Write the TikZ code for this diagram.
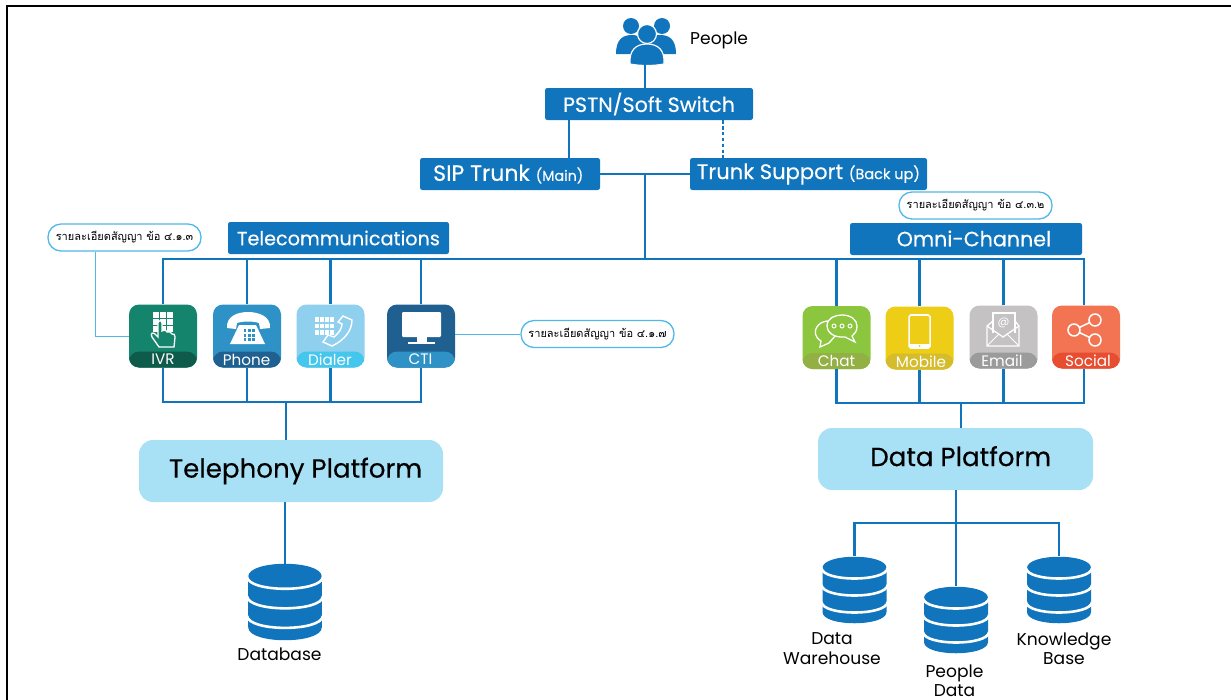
\documentclass[tikz,border=0pt]{standalone}
\usepackage{fontspec}
\setmainfont{Poppins}
\newfontfamily\boxfont[FakeBold=0.35]{Poppins}
\newfontfamily\thaifont[Script=Thai]{Loma}
\usepackage{tikz}
\usepackage{xcolor}
\definecolor{boxblue}{RGB}{17,117,190}
\definecolor{platblue}{RGB}{168,224,245}
\definecolor{noteblue}{RGB}{79,184,232}
\definecolor{ivrtop}{RGB}{20,133,108}
\definecolor{ivrbot}{RGB}{14,91,75}
\definecolor{phonetop}{RGB}{47,146,198}
\definecolor{phonebot}{RGB}{31,96,144}
\definecolor{dialtop}{RGB}{143,208,239}
\definecolor{dialbot}{RGB}{69,198,236}
\definecolor{chattop}{RGB}{140,198,63}
\definecolor{chatbot}{RGB}{147,176,68}
\definecolor{mobtop}{RGB}{237,205,21}
\definecolor{mobbot}{RGB}{212,188,44}
\definecolor{mailtop}{RGB}{196,194,194}
\definecolor{mailbot}{RGB}{155,155,155}
\definecolor{socialtop}{RGB}{242,116,82}
\definecolor{socialbot}{RGB}{230,77,49}
\def\u{0.03cm}
\newcommand{\fsz}[1]{\fontsize{#1}{#1}\selectfont}
\tikzset{%
    bluebox/.style 2 args={%
        fill=boxblue, text=white, rounded corners=2pt, inner sep=0pt,
        minimum width=#1*\u, minimum height=#2*\u, font=\boxfont
    },
    platform/.style 2 args={%
        fill=platblue, text=black, rounded corners=0.42cm, inner sep=0pt,
        minimum width=#1*\u, minimum height=#2*\u, font=\boxfont\fsz{22.3}
    },
    note/.style={%
        draw=noteblue, fill=white, rounded corners=0.39cm, inner sep=0pt, line width=1.1pt,
        minimum width=153*\u, minimum height=27*\u, font=\thaifont\fsz{9.4}
    },
    tile/.style 2 args={%
        fill=#1, rounded corners=0.3cm, inner sep=0pt,
        minimum width=68*\u, minimum height=63*\u,
        path picture={\fill[#2] ([yshift=16*\u]path picture bounding box.south west) rectangle (path picture bounding box.north east |- path picture bounding box.south);}
    },
    tilelabel/.style={text=white, inner sep=0pt, font=\fsz{13}},
    dblabel/.style={text=black, inner sep=0pt, align=center, font=\fontsize{14.6}{16.5}\selectfont},
    wire/.style={boxblue, line width=1.8pt},
    noteline/.style={noteblue, line width=0.8pt},
    slot/.style={minimum width=64*\u, minimum height=68*\u, inner sep=0pt},
    dbicon/.pic={%
        \fill[boxblue] (-32,-22) .. controls (-32,-37) and (32,-37) .. (32,-22) -- (32,22) .. controls (32,37) and (-32,37) .. (-32,22) -- cycle;
        \foreach \yy in {-22,-5,12}
            \draw[white,line width=2.2pt] (-33,\yy) .. controls (-32,\yy+14) and (32,\yy+14) .. (33,\yy);
    }
}
\begin{document}
\begin{tikzpicture}[x=0.03cm,y=-0.03cm]
    \useasboundingbox (0,0) rectangle (1231,699);
    \draw[line width=1.3pt] (7,705)--(7,6)--(1240,6);

    % people on top
    \node[inner sep=0pt,minimum width=60*\u,minimum height=48*\u] (people) at (646,40) {};
    \begin{scope}[shift={(646,40)}]
        \fill[boxblue] (-15,-14) circle (8);
        \fill[boxblue] (16,-14) circle (8);
        \fill[boxblue] (-30,14) .. controls (-30,-2) and (-22,-5) .. (-14,-5) .. controls (-6,-5) and (0,0) .. (2,14) -- cycle;
        \fill[boxblue] (-2,14) .. controls (0,0) and (6,-5) .. (14,-5) .. controls (22,-5) and (30,-2) .. (30,14) -- cycle;
        \filldraw[boxblue,draw=white,line width=1pt] (1,-6) circle (9.5);
        \filldraw[boxblue,draw=white,line width=1pt] (-16,24) .. controls (-17,10) and (-10,4) .. (1,4) .. controls (12,4) and (19,10) .. (18,24) .. controls (8,26) and (-6,26) .. (-16,24) -- cycle;
    \end{scope}
    \node[text=black,inner sep=0pt,font=\fsz{14.6},anchor=west] (peopletxt) at (690,40) {People};

    % boxes
    \node[bluebox={208}{32}] (pstn) at (649,104) {\raisebox{2pt}{\fsz{17.6}PSTN/Soft Switch}};
    \node[bluebox={180}{32}] (sip) at (510,174) {\hspace*{-0.3em}\fsz{18.8}SIP Trunk \fsz{12.2}(Main)};
    \node[bluebox={237}{32}] (support) at (808.5,174) {\fsz{18}Trunk Support \fsz{12.4}(Back up)};
    \node[bluebox={221}{32}] (telecom) at (338.5,238) {\fsz{16.4}Telecommunications};
    \node[bluebox={232}{32}] (omni) at (966,239) {\hspace*{1.35em}\raisebox{1pt}{\fsz{17.6}Omni-Channel}};

    % notes
    \node[note] (noteivr) at (124.5,237.5) {รายละเอียดสัญญา ข้อ ๔.๑.๓};
    \node[note] (noteomni) at (975.5,205.5) {รายละเอียดสัญญา ข้อ ๔.๓.๒};
    \node[note] (notecti) at (597.5,334) {รายละเอียดสัญญา ข้อ ๔.๑.๗};

    % tiles
    \node[tile={ivrtop}{ivrbot}] (ivr) at (163,336) {};
    \node[tile={phonetop}{phonebot}] (phone) at (247,336) {};
    \node[tile={dialtop}{dialbot}] (dialer) at (330.5,336) {};
    \node[tile={phonebot}{phonetop}] (cti) at (421,336) {};
    \node[tile={chattop}{chatbot}] (chat) at (836.5,337.5) {};
    \node[tile={mobtop}{mobbot}] (mobile) at (919.5,338) {};
    \node[tile={mailtop}{mailbot}] (email) at (1003.5,337) {};
    \node[tile={socialtop}{socialbot}] (social) at (1086,337) {};
    \node[tilelabel] (ivrtxt) at (163,359) {IVR};
    \node[tilelabel] (phonetxt) at (246.5,359.5) {Phone};
    \node[tilelabel] (dialertxt) at (330,360) {Dialer};
    \node[tilelabel] (ctitxt) at (420.5,359.5) {CTI};
    \node[tilelabel] (chattxt) at (836.5,361) {Chat};
    \node[tilelabel] (mobiletxt) at (921,362) {Mobile};
    \node[tilelabel] (emailtxt) at (1002,361) {Email};
    \node[tilelabel] (socialtxt) at (1088,361) {Social};

    % ivr icon
    \foreach \i in {0,1,2}
        \foreach \j in {0,1,2}
            \fill[white] (153+\i*7,312+\j*7) rectangle +(5.5,5.5);
    \filldraw[ivrtop,draw=white,line width=1.1pt] (159,347) -- (152,337) .. controls (150,333) and (153,332) .. (155,334) -- (158,337) -- (158,323) .. controls (158,320) and (162,320) .. (162,323) -- (162,331) .. controls (164,329) and (167,330) .. (167,332) .. controls (169,331) and (171,332) .. (172,334) .. controls (174,333) and (175,335) .. (175,337) -- (174,347) -- cycle;

    % phone icon
    \fill[white] (227,328) .. controls (226,316) and (238,312) .. (248,312) .. controls (258,312) and (271,316) .. (270,328) -- (260,329) -- (259,323) .. controls (253,321) and (243,321) .. (237,323) -- (236,329) -- cycle;
    \fill[white] (239,325) -- (256,325) -- (265,344) -- (230,344) -- cycle;
    \foreach \i in {0,1,2}
        \foreach \j in {0,1,2}
            \fill[phonetop] (243.5+\i*4.2,329+\j*4.5) rectangle +(2.8,3);

    % dialer icon
    \foreach \i in {0,1,2,3}
        \foreach \j in {0,1,2}
            \fill[white] (315+\i*5,317+\j*6.5) rectangle +(4,4.5);
    \filldraw[dialtop,draw=white,line width=1.2pt] (343,316) -- (352,320) .. controls (352,330) and (345,340) .. (332,346) -- (323,342) -- (328,335) -- (334,337) .. controls (339,333) and (342,328) .. (342,324) -- (338,322) -- cycle;

    % cti icon
    \fill[white,rounded corners=1pt] (402,312) rectangle (441,337);
    \fill[white] (417,337) rectangle (427,342);
    \fill[white] (408,342) rectangle (435,344);

    % chat icon
    \filldraw[chattop,draw=white,line width=1.1pt] (829,343) -- (820,347) -- (821,341) .. controls (814,337) and (813,328) .. (821,323) .. controls (828,319) and (838,321) .. (842,328) -- cycle;
    \filldraw[chattop,draw=white,line width=1.1pt] (845,337) .. controls (832,338) and (827,331) .. (827,326) .. controls (827,318) and (835,315) .. (842,315) .. controls (851,315) and (857,320) .. (857,326) .. controls (857,331) and (855,334) .. (852,336) -- (855,342) -- cycle;
    \foreach \i in {0,1,2}
        \filldraw[chattop,draw=white,line width=0.8pt] (834+\i*8,326) circle (2);

    % mobile icon
    \draw[white,line width=1.3pt,rounded corners=1.5pt] (909,315) rectangle (930,348);
    \fill[white] (909,344) rectangle (930,348);
    \fill[mobtop] (919.5,346) circle (1);

    % email icon
    \draw[white,line width=1.1pt] (993,333) -- (993,313) -- (1015,313) -- (1015,333);
    \draw[white,line width=1.1pt] (993,321) -- (987,326) -- (987,346) -- (1019,346) -- (1019,326) -- (1015,321);
    \draw[white,line width=1.1pt] (987,326) -- (1003,337) -- (1019,326);
    \draw[white,line width=0.8pt] (987,346) -- (999,334) (1019,346) -- (1007,334);
    \node[text=white,inner sep=0pt,font=\fsz{10}] (emailat) at (1003.5,323) {@};

    % social icon
    \draw[white,line width=1.3pt] (1095,320) -- (1074,330) -- (1095,340);
    \filldraw[socialtop,draw=white,line width=1.3pt] (1095,320) circle (6);
    \filldraw[socialtop,draw=white,line width=1.3pt] (1074,330) circle (6);
    \filldraw[socialtop,draw=white,line width=1.3pt] (1095,340) circle (6);

    % platforms
    \node[platform={304}{62}] (telephony) at (291,471) {\hspace*{0.35em}\raisebox{1pt}{Telephony Platform}};
    \node[platform={275}{62}] (dataplat) at (955.5,459) {\hspace*{0.4em}\raisebox{5pt}{Data Platform}};

    % databases
    \node[slot] (dbmain) at (285,602) {};
    \pic[scale=1.15] at (dbmain) {dbicon};
    \node[slot] (dbware) at (854.5,590) {};
    \pic at (dbware) {dbicon};
    \node[slot] (dbpeople) at (956,620) {};
    \pic at (dbpeople) {dbicon};
    \node[slot] (dbknow) at (1059,590) {};
    \pic at (dbknow) {dbicon};
    \node[dblabel] (dbmaintxt) at (279.5,654) {Database};
    \node[dblabel] (dbwaretxt) at (832,648.5) {Data\\Warehouse};
    \node[dblabel] (dbpeopletxt) at (954.5,681) {People\\Data};
    \node[dblabel] (dbknowtxt) at (1064,648.5) {Knowledge\\Base};

    % connectors
    \coordinate (upper) at (645,174);
    \coordinate (bus) at (645,259);
    \coordinate (lowtel) at (286,402);
    \coordinate (lowomni) at (961,403);
    \coordinate (lowdata) at (956,523);
    \draw[wire] (people.south -| 645,0) -- (pstn.north -| 645,0);
    \draw[wire] (pstn.south -| 569,0) -- (sip.north -| 569,0);
    \draw[wire,dash pattern=on 3pt off 2pt] (pstn.south -| 723,0) -- (support.north -| 723,0);
    \draw[wire] (sip.east) -- (support.west);
    \draw[wire] (upper) -- (bus);
    \draw[wire] (ivr.north) |- (bus);
    \draw[wire] (social.north -| 1084,0) |- (bus);
    \foreach \top in {phone,dialer,cti,chat,mobile,email}
        \draw[wire] (\top.north) -- (\top.north |- bus);
    \draw[wire] (ivr.south) |- (lowtel);
    \draw[wire] (cti.south) |- (lowtel);
    \foreach \bot in {phone,dialer}
        \draw[wire] (\bot.south) -- (\bot.south |- lowtel);
    \draw[wire] (lowtel) -- (telephony.north -| lowtel);
    \draw[wire] (chat.south) |- (lowomni);
    \draw[wire] (social.south -| 1084,0) |- (lowomni);
    \foreach \bot in {mobile,email}
        \draw[wire] (\bot.south) -- (\bot.south |- lowomni);
    \draw[wire] (lowomni) -- (dataplat.north -| lowomni);
    \draw[wire] (telephony.south -| 285,0) -- (dbmain.north -| 285,0);
    \draw[wire] (dataplat.south -| lowdata) -- (dbpeople.north);
    \draw[wire] (dbware.north) |- (lowdata);
    \draw[wire] (dbknow.north) |- (lowdata);
    \draw[noteline] (noteivr.south -| 95,0) |- (ivr.west);
    \draw[noteline] (cti.east |- notecti.west) -- (notecti.west);
\end{tikzpicture}
\end{document}
